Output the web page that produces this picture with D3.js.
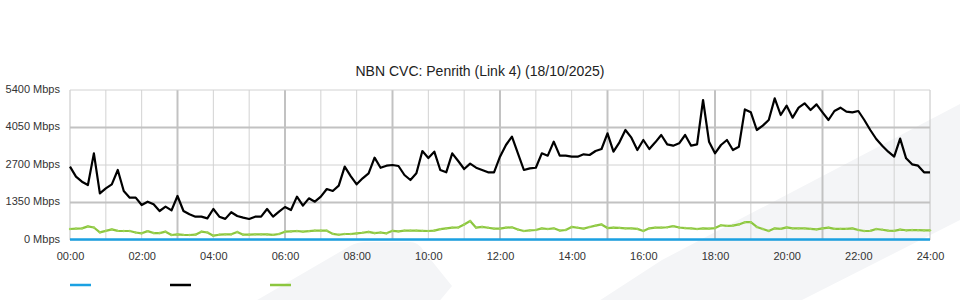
<!DOCTYPE html>
<html>
<head>
<meta charset="utf-8">
<script src="https://cdn.jsdelivr.net/npm/d3@7"></script>
<style>
  body { margin: 0; background: #fff; }
  svg { display: block; }
</style>
</head>
<body>
<div id="chart"></div>
<script>
// Sample times, minutes since midnight, one every 10 minutes
var minutes = d3.range(0, 1441, 10);

// Traffic in Mbps (10 minute samples)
var blackSeries = [
  2640,2280,2100,1980,3120,1680,1860,2000,2520,1764,1524,1524,
  1260,1380,1284,1044,1200,1068,1584,1044,924,840,840,780,
  1116,840,760,1000,864,804,756,840,840,1116,840,1020,
  1188,1080,1560,1236,1500,1380,1560,1836,1764,1956,2640,2300,
  2004,2220,2400,2964,2600,2676,2700,2664,2340,2160,2400,3204,
  2950,3180,2520,2436,3120,2844,2556,2748,2604,2520,2436,2436,
  3000,3420,3720,3120,2520,2580,2600,3120,3036,3540,3036,3036,
  3000,3000,3084,3060,3204,3276,3840,3180,3516,3960,3684,3240,
  3600,3276,3516,3780,3444,3396,3480,3780,3396,3444,5040,3540,
  3120,3420,3600,3240,3360,4700,4596,3960,4116,4320,5100,4500,
  4836,4404,4764,4920,4680,4884,4596,4320,4644,4764,4620,4596,
  4644,4320,3960,3636,3396,3180,3000,3650,2940,2724,2676,2436,
  2436
];
var greenSeries = [
  396,408,420,490,450,276,330,384,330,324,324,270,
  240,320,250,250,300,180,204,185,180,190,300,270,
  156,190,204,204,290,190,190,204,204,200,185,216,
  300,310,324,300,320,336,336,336,220,190,216,216,
  236,260,290,250,270,240,330,310,336,336,336,330,
  324,340,390,420,444,450,560,684,444,470,440,410,
  410,444,456,380,324,348,360,420,396,420,340,360,
  470,440,410,468,516,560,430,444,436,420,420,400,
  324,420,444,444,460,500,450,430,420,396,420,410,
  430,530,510,520,560,640,640,470,396,324,420,400,
  456,420,420,420,400,384,420,444,400,400,400,420,
  360,324,330,396,370,336,330,372,350,360,355,350,
  348
];
// Blue series sits on the floor all day (hourly samples)
var blueHours = d3.range(0, 1441, 60);
var blueSeries = [20,20,20,20,20,20,20,20,20,20,20,20,20,20,20,20,20,20,20,20,20,20,20,20,20];

var yTicks = [0, 1350, 2700, 4050, 5400];
var xLabels = ["00:00","02:00","04:00","06:00","08:00","10:00","12:00",
               "14:00","16:00","18:00","20:00","22:00","24:00"];
var legendColors = ["#1ba1e2", "#000000", "#8cc63f"];

var width = 960, height = 300;
var margin = { top: 90, right: 30, bottom: 60, left: 70 };
var fontFam = "Liberation Sans, Arial, sans-serif";

var svg = d3.select('#chart').append('svg')
  .attr('width', width)
  .attr('height', height);

// Faint background decoration
var deco = svg.append('g').attr('id', 'deco').attr('fill', '#f4f5f7');
deco.append('path')
  .attr('d', 'M240,310 L350,246 Q357,242 366,242 L410,242 Q418,242 423,250 L452,286 L432,310 Z');
deco.append('path')
  .attr('d', 'M585,310 L662,260 L960,104 L960,220 L802,300 L783,310 Z');

var x = d3.scaleLinear().domain([0, 1440]).range([margin.left, width - margin.right]);
var y = d3.scaleLinear().domain([0, 5400]).range([height - margin.bottom, margin.top]);

// Grid
var grid = svg.append('g').attr('id', 'grid');
grid.selectAll('line.v')
  .data(d3.range(0, 1441, 60))
  .enter().append('line')
    .attr('class', 'v')
    .attr('x1', function(d){ return x(d); })
    .attr('x2', function(d){ return x(d); })
    .attr('y1', y(5400))
    .attr('y2', y(0))
    .attr('stroke', function(d){ return d % 180 == 0 ? '#c2c2c2' : '#d2d2d2'; })
    .attr('stroke-width', function(d){ return (d % 180 == 0 && d > 0 && d < 1440) ? 2 : 1; });
grid.selectAll('line.h')
  .data(yTicks)
  .enter().append('line')
    .attr('class', 'h')
    .attr('x1', x(0))
    .attr('x2', x(1440))
    .attr('y1', function(d){ return y(d); })
    .attr('y2', function(d){ return y(d); })
    .attr('stroke', function(d){ return (d == 1350 || d == 4050) ? '#c2c2c2' : '#d2d2d2'; })
    .attr('stroke-width', function(d){ return (d == 1350 || d == 4050) ? 2 : 1; });

// Axes
svg.append('g')
  .attr('transform', 'translate(' + x(0) + ',0)')
  .call(d3.axisLeft(y).tickValues(yTicks).tickSize(0).tickPadding(10)
    .tickFormat(function(d){ return d + ' Mbps'; }))
  .call(function(g){
    g.select('.domain').remove();
    g.selectAll('text').attr('font-family', fontFam).attr('font-size', 11)
      .attr('fill', '#333').attr('dy', '0.2em');
  });

svg.append('g')
  .attr('transform', 'translate(0,' + y(0) + ')')
  .call(d3.axisBottom(x).tickValues(d3.range(0, 1441, 120)).tickSize(0).tickPadding(12)
    .tickFormat(function(d, i){ return xLabels[i]; }))
  .call(function(g){
    g.select('.domain').remove();
    g.selectAll('text').attr('font-family', fontFam).attr('font-size', 11).attr('fill', '#333');
  });

// Series
var line = d3.line()
  .x(function(d){ return x(d[0]); })
  .y(function(d){ return y(d[1]); });

var greenPts = minutes.map(function(m, i){ return [m, greenSeries[i]]; });
svg.append('path')
  .attr('d', line(greenPts))
  .attr('fill', 'none')
  .attr('stroke', '#8cc63f')
  .attr('stroke-width', 2.2)
  .attr('stroke-linejoin', 'round');
svg.append('g').selectAll('circle')
  .data(greenPts)
  .enter().append('circle')
    .attr('cx', function(d){ return x(d[0]); })
    .attr('cy', function(d){ return y(d[1]); })
    .attr('r', 1.2)
    .attr('fill', '#9fd45a');

svg.append('path')
  .attr('d', line(blueHours.map(function(m, i){ return [m, blueSeries[i]]; })))
  .attr('fill', 'none')
  .attr('stroke', '#1ba1e2')
  .attr('stroke-width', 2.5);

svg.append('path')
  .attr('d', line(minutes.map(function(m, i){ return [m, blackSeries[i]]; })))
  .attr('fill', 'none')
  .attr('stroke', '#000')
  .attr('stroke-width', 2.2)
  .attr('stroke-linejoin', 'round');

// Title
svg.append('text')
  .attr('x', 480)
  .attr('y', 76)
  .attr('text-anchor', 'middle')
  .attr('font-family', fontFam)
  .attr('font-size', 14)
  .attr('fill', '#222')
  .text('NBN CVC: Penrith (Link 4) (18/10/2025)');

// Legend swatches (no labels)
svg.append('g').selectAll('line')
  .data(legendColors)
  .enter().append('line')
    .attr('x1', function(d, i){ return 70 + i * 100; })
    .attr('x2', function(d, i){ return 91 + i * 100; })
    .attr('y1', 285)
    .attr('y2', 285)
    .attr('stroke', function(d){ return d; })
    .attr('stroke-width', 2.5);
</script>
</body>
</html>
